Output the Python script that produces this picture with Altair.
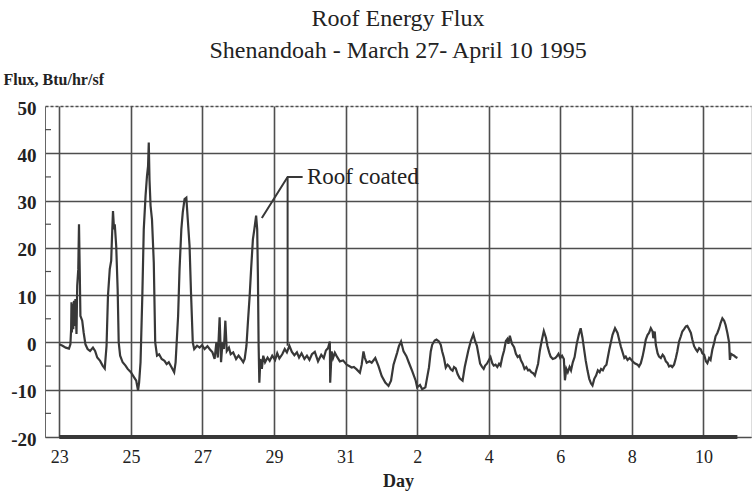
import altair as alt
import pandas as pd

# Day axis is continuous: March 23 = 23 ... March 31 = 31, April 1 = 32, ... April 10 = 41
days = [
    23.0, 23.09, 23.18, 23.27, 23.31, 23.33, 23.34, 23.35, 23.37, 23.39, 23.41, 23.43, 23.45, 23.48,
    23.5, 23.53, 23.55, 23.57, 23.59, 23.64, 23.68, 23.73, 23.79, 23.86, 23.94, 24.0, 24.06, 24.14,
    24.21, 24.27, 24.32, 24.36, 24.41, 24.45, 24.47, 24.5, 24.53, 24.55, 24.59, 24.63, 24.66, 24.7,
    24.77, 24.85, 24.91, 25.0, 25.09, 25.15, 25.2, 25.23, 25.27, 25.32, 25.36, 25.41, 25.45, 25.48,
    25.5, 25.52, 25.55, 25.59, 25.64, 25.68, 25.73, 25.79, 25.86, 25.94, 26.0, 26.06, 26.14, 26.21,
    26.25, 26.32, 26.36, 26.41, 26.45, 26.5, 26.55, 26.59, 26.64, 26.68, 26.73, 26.77, 26.85, 26.92,
    26.99, 27.06, 27.14, 27.21, 27.28, 27.34, 27.39, 27.43, 27.48, 27.52, 27.56, 27.6, 27.64, 27.68,
    27.74, 27.79, 27.86, 27.94, 28.01, 28.08, 28.14, 28.18, 28.23, 28.27, 28.32, 28.36, 28.41, 28.45,
    28.5, 28.53, 28.55, 28.57, 28.59, 28.62, 28.66, 28.7, 28.75, 28.82, 28.88, 28.95, 29.03, 29.09,
    29.15, 29.23, 29.3, 29.36, 29.43, 29.5, 29.57, 29.64, 29.7, 29.77, 29.85, 29.92, 29.99, 30.06,
    30.14, 30.23, 30.32, 30.39, 30.45, 30.51, 30.56, 30.57, 30.61, 30.65, 30.7, 30.75, 30.84, 30.93,
    31.03, 31.1, 31.17, 31.23, 31.31, 31.4, 31.45, 31.5, 31.54, 31.59, 31.67, 31.73, 31.83, 31.92,
    32.01, 32.11, 32.2, 32.27, 32.34, 32.44, 32.49, 32.55, 32.62, 32.7, 32.77, 32.86, 32.96, 33.0,
    33.08, 33.14, 33.23, 33.28, 33.33, 33.38, 33.42, 33.49, 33.54, 33.61, 33.66, 33.7, 33.75, 33.8,
    33.85, 33.89, 33.94, 33.99, 34.03, 34.08, 34.13, 34.19, 34.27, 34.33, 34.43, 34.5, 34.57, 34.62,
    34.67, 34.71, 34.76, 34.81, 34.86, 34.9, 34.95, 35.05, 35.1, 35.14, 35.19, 35.24, 35.29, 35.33,
    35.38, 35.43, 35.48, 35.52, 35.55, 35.59, 35.65, 35.71, 35.76, 35.81, 35.86, 35.9, 35.95, 36.0,
    36.05, 36.1, 36.14, 36.19, 36.24, 36.29, 36.33, 36.38, 36.43, 36.48, 36.54, 36.6, 36.64, 36.69,
    36.73, 36.79, 36.86, 36.9, 36.95, 37.0, 37.05, 37.1, 37.13, 37.17, 37.21, 37.26, 37.3, 37.35,
    37.4, 37.46, 37.52, 37.57, 37.62, 37.67, 37.71, 37.76, 37.81, 37.86, 37.9, 37.95, 38.0, 38.05,
    38.1, 38.14, 38.19, 38.24, 38.29, 38.37, 38.46, 38.53, 38.6, 38.69, 38.79, 38.83, 38.88, 38.94,
    39.02, 39.08, 39.16, 39.2, 39.25, 39.3, 39.34, 39.39, 39.44, 39.48, 39.53, 39.58, 39.6, 39.64,
    39.67, 39.72, 39.76, 39.81, 39.86, 39.9, 39.95, 40.0, 40.04, 40.09, 40.13, 40.18, 40.23, 40.27,
    40.32, 40.37, 40.41, 40.46, 40.51, 40.55, 40.6, 40.65, 40.69, 40.74, 40.79, 40.83, 40.88, 40.93,
    40.97, 41.02, 41.07, 41.11, 41.16, 41.2, 41.25, 41.3, 41.34, 41.39, 41.44, 41.48, 41.53, 41.58,
    41.62, 41.67, 41.72, 41.74, 41.77, 41.81, 41.86, 41.9, 41.95,
]
flux = [
    -0.4, -0.7, -1.1, -1.3, -0.4, 2.8, 8.5, 2.1, 8.1, 2.8, 8.8, 3.5, 9.2, 1.8,
    12.0, 15.5, 25.0, 15.5, 5.6, 4.6, 2.1, -0.4, -1.4, -1.8, -1.1, -1.8, -3.2, -3.9,
    -4.9, -5.5, -0.7, 9.9, 15.5, 17.3, 21.8, 27.8, 23.9, 25.0, 20.4, 11.3, 0.0, -2.8,
    -4.2, -4.9, -5.6, -6.3, -7.4, -8.1, -10.2, -8.5, -4.2, 9.9, 23.9, 31.0, 35.2, 37.3,
    42.3, 34.5, 28.9, 26.0, 16.9, 0.0, -2.8, -2.5, -3.5, -3.9, -4.6, -4.2, -5.3, -6.3,
    -4.2, 5.6, 15.5, 23.9, 27.5, 30.3, 30.6, 26.0, 20.4, 10.6, 0.0, -1.4, -0.7, -1.1,
    -0.6, -1.4, -0.8, -1.5, -2.1, -3.5, 0.0, -3.2, 5.3, -4.2, 0.0, -1.4, 4.6, -1.8,
    -1.1, -2.5, -2.1, -3.5, -2.8, -3.5, -4.2, -3.5, -0.7, 4.2, 9.9, 15.5, 21.8, 23.9,
    26.8, 23.9, 14.1, -0.7, -8.5, -3.5, -5.6, -2.8, -4.2, -3.2, -3.9, -2.8, -3.7, -2.3,
    -3.4, -2.5, -1.4, -2.1, -0.7, -2.0, -2.7, -2.1, -3.2, -2.3, -3.5, -2.8, -3.7, -2.5,
    -2.0, -4.0, -2.6, -3.3, -1.7, -1.2, 0.2, -8.5, -1.9, -3.3, -2.2, -2.9, -4.0, -3.8,
    -4.7, -5.0, -5.3, -5.2, -5.7, -6.4, -4.7, -1.9, -3.3, -4.3, -4.0, -4.3, -3.3, -5.0,
    -7.1, -8.5, -9.2, -8.1, -4.7, -2.2, -0.8, 0.2, -1.9, -2.9, -4.3, -6.0, -8.1, -9.5,
    -9.0, -9.9, -9.5, -7.4, -5.3, -1.9, -0.5, 0.4, 0.6, 0.2, -0.5, -1.9, -3.3, -5.3,
    -4.7, -5.0, -5.7, -6.0, -5.2, -5.5, -6.7, -7.6, -8.1, -5.2, -1.7, 0.3, 1.7, 0.3,
    -0.7, -2.4, -4.5, -5.1, -5.6, -4.9, -4.5, -3.1, -4.4, -4.9, -4.7, -5.2, -4.5, -4.9,
    -3.1, -1.7, 0.3, 0.7, -0.3, 1.4, -0.3, -1.0, -2.4, -3.1, -2.8, -3.8, -4.5, -5.6,
    -5.2, -5.9, -5.8, -6.3, -6.5, -7.0, -5.9, -4.5, -1.7, 0.3, 2.4, 1.0, -0.7, -2.1,
    -3.0, -3.5, -3.3, -3.0, -2.4, -3.3, -2.8, -3.5, -8.0, -5.6, -6.3, -5.2, -5.9, -4.2,
    -3.1, -0.3, 1.7, 3.0, 1.0, -1.7, -3.8, -5.9, -7.7, -8.7, -9.1, -7.7, -7.0, -5.9,
    -6.3, -5.6, -5.9, -5.1, -4.7, -1.5, 1.6, 3.0, 2.0, -0.8, -3.3, -3.0, -3.7, -3.3,
    -4.0, -4.4, -4.7, -5.1, -4.4, -3.0, -1.5, 0.6, 1.6, 2.0, 3.0, 2.3, 0.9, 2.3,
    -0.5, -2.3, -3.0, -3.3, -2.6, -3.0, -4.0, -4.4, -5.1, -4.9, -5.2, -4.7, -3.3, -1.9,
    0.2, 1.3, 2.3, 2.8, 3.4, 3.5, 2.8, 2.0, 0.6, -0.8, -1.5, -1.9, -1.2, -1.5,
    -2.3, -2.6, -4.0, -4.4, -3.3, -3.7, -1.5, -0.1, 1.3, 2.0, 3.0, 4.1, 5.1, 4.6,
    3.7, 2.0, -0.1, -3.7, -2.4, -2.6, -2.8, -3.1, -3.3,
]

# thick baseline series at -20
base_days = [23.0, 41.95]
base_flux = [-20, -20]

# "Roof coated" leader lines
lead_days = [28.66, 29.38, 29.8]
lead_flux = [26.3, 35.0, 35.0]
lead_vert_day = [29.38]
lead_vert_lo = [-0.7]
lead_vert_hi = [35.0]
note_day = [29.92]
note_flux = [35.0]
note_text = ["Roof coated"]

minor_ticks = [45, 35, 25, 15, 5, -5, -15]
y_ticks = [-20, -10, 0, 10, 20, 30, 40, 50]
x_ticks = [23, 25, 27, 29, 31, 33, 35, 37, 39, 41]

INK = "#383838"
GRID = "#4e4e4e"
SERIF = "Liberation Serif"

xscale = alt.Scale(domain=[22.6, 42.33], nice=False, zero=False)
yscale = alt.Scale(domain=[-20, 50], nice=False, zero=False)

df = pd.DataFrame({"day": days, "flux": flux})

xaxis = alt.Axis(
    values=x_ticks, grid=True, gridColor=GRID, gridWidth=1.6, gridOpacity=1,
    ticks=False, domain=True, domainColor=GRID, domainWidth=1,
    labelExpr="datum.value > 31 ? '' + (datum.value - 31) : '' + datum.value",
    labelFont=SERIF, labelFontSize=18, labelColor="#222", labelPadding=11,
    title="Day", titleFont=SERIF, titleFontSize=18, titleFontWeight="bold",
    titleColor="#222", titlePadding=6,
)
yaxis = alt.Axis(
    values=y_ticks, grid=True, gridColor=GRID, gridWidth=1.6, gridOpacity=1,
    gridDash=alt.condition("datum.value == 50", alt.value([3, 2]), alt.value([])),
    ticks=False, domain=True, domainColor="#666", domainWidth=1,
    labelExpr="'' + datum.value",
    labelFont=SERIF, labelFontSize=19, labelFontWeight="bold", labelColor="#222",
    labelPadding=9, labelOffset=2,
    title="Flux, Btu/hr/sf", titleAngle=0, titleAlign="left", titleBaseline="alphabetic",
    titleX=-42, titleY=-22, titleFont=SERIF, titleFontSize=16, titleFontWeight="bold",
    titleColor="#222",
)

line = alt.Chart(df).mark_line(color=INK, strokeWidth=2.2, interpolate="linear").encode(
    x=alt.X("day:Q", scale=xscale, axis=xaxis),
    y=alt.Y("flux:Q", scale=yscale, axis=yaxis),
)

base = alt.Chart(pd.DataFrame({"day": base_days, "flux": base_flux})).mark_line(
    color=INK, strokeWidth=4
).encode(x=alt.X("day:Q", scale=xscale), y=alt.Y("flux:Q", scale=yscale))

lead = alt.Chart(pd.DataFrame({"day": lead_days, "flux": lead_flux, "i": [0, 1, 2]})).mark_line(
    color=INK, strokeWidth=2
).encode(x=alt.X("day:Q", scale=xscale), y=alt.Y("flux:Q", scale=yscale), order="i:Q")

lead_v = alt.Chart(pd.DataFrame({"day": lead_vert_day, "lo": lead_vert_lo, "hi": lead_vert_hi})).mark_rule(
    color=INK, strokeWidth=2
).encode(x=alt.X("day:Q", scale=xscale), y=alt.Y("lo:Q", scale=yscale), y2="hi:Q")

note = alt.Chart(pd.DataFrame({"day": note_day, "flux": note_flux, "t": note_text})).mark_text(
    font=SERIF, fontSize=23, align="left", baseline="middle", color="#222"
).encode(x=alt.X("day:Q", scale=xscale), y=alt.Y("flux:Q", scale=yscale), text="t:N")

minor = alt.Chart(pd.DataFrame({"flux": minor_ticks})).mark_rule(color=GRID, strokeWidth=1.2).encode(
    y=alt.Y("flux:Q", scale=yscale), x=alt.value(0), x2=alt.value(6)
)

chart = alt.layer(minor, base, line, lead, lead_v, note).properties(
    width=706, height=331,
    autosize=alt.AutoSizeParams(type="none"),
    padding={"left": 45, "top": 106, "right": 1, "bottom": 58},
    title=alt.Title(
        text=["Roof Energy Flux", "Shenandoah - March 27- April 10 1995"],
        font=SERIF, fontSize=24, fontWeight="normal", color="#222",
        anchor="middle", frame="group", lineHeight=32, offset=8,
    ),
).configure_view(stroke=None).configure(background="white")

chart.save("out.html", embed_options={"renderer": "svg", "actions": False})
